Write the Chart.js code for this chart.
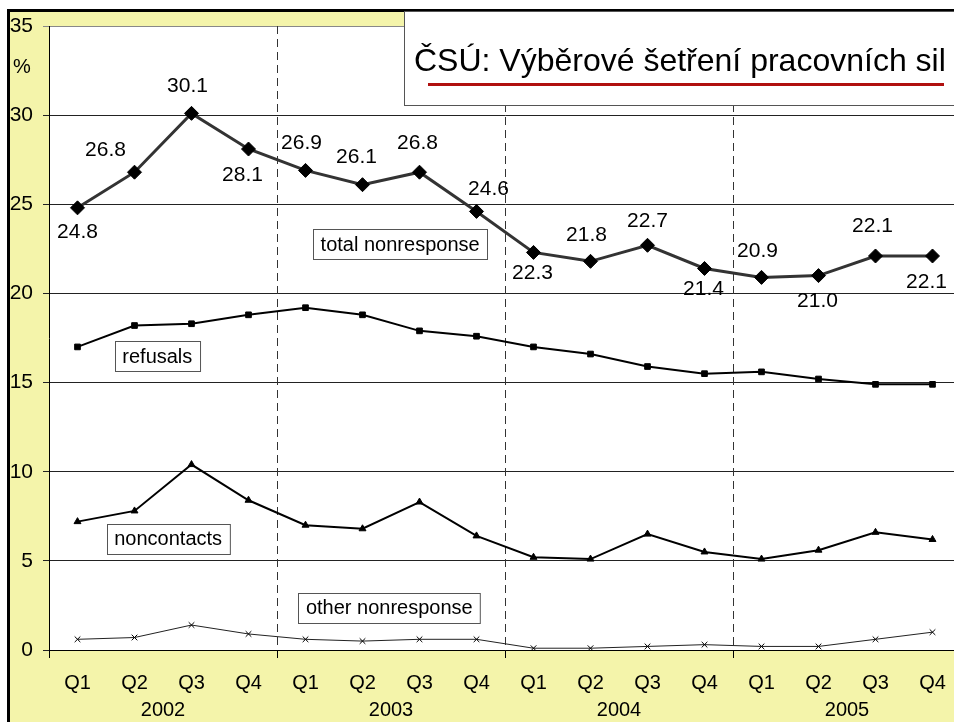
<!DOCTYPE html>
<html>
<head>
<meta charset="utf-8">
<script src="https://cdn.jsdelivr.net/npm/chart.js@4.4.1/dist/chart.umd.min.js"></script>
<style>
  html, body { margin: 0; padding: 0; background: #fff; overflow: hidden; }
  #wrap { position: relative; width: 954px; height: 722px; overflow: hidden; }
  canvas { position: absolute; left: 0; top: 0; }
</style>
</head>
<body>
<div id="wrap"><canvas id="chart" width="980" height="722"></canvas></div>
<script>
  const quarters = ['Q1', 'Q2', 'Q3', 'Q4', 'Q1', 'Q2', 'Q3', 'Q4', 'Q1', 'Q2', 'Q3', 'Q4', 'Q1', 'Q2', 'Q3', 'Q4'];
  const years = ['2002', '2003', '2004', '2005'];
  const totalNonresponse = [24.8, 26.8, 30.1, 28.1, 26.9, 26.1, 26.8, 24.6, 22.3, 21.8, 22.7, 21.4, 20.9, 21.0, 22.1, 22.1];
  const refusals = [17.0, 18.2, 18.3, 18.8, 19.2, 18.8, 17.9, 17.6, 17.0, 16.6, 15.9, 15.5, 15.6, 15.2, 14.9, 14.9];
  const noncontacts = [7.2, 7.8, 10.4, 8.4, 7.0, 6.8, 8.3, 6.4, 5.2, 5.1, 6.5, 5.5, 5.1, 5.6, 6.6, 6.2];
  const otherNonresponse = [0.6, 0.7, 1.4, 0.9, 0.6, 0.5, 0.6, 0.6, 0.1, 0.1, 0.2, 0.3, 0.2, 0.2, 0.6, 1.0];
  const seriesNames = ['total nonresponse', 'refusals', 'noncontacts', 'other nonresponse'];
  const title = 'ČSÚ: Výběrové šetření pracovních sil';

  const FONT = "'Liberation Sans', Arial, sans-serif";
  const YELLOW = '#f4f4aa';

  // where the value labels of the total line sit, relative to each point (px)
  const labelOffsets = [[0, 24], [-29, -22], [-4, -27], [-6, 26], [-4, -27], [-6, -27], [-2, -29], [12, -22],
    [-1, 21], [-4, -26], [0, -24], [-1, 21], [-4, -26], [-1, 26], [-3, -30], [-6, 26]];
  // name boxes, centre in (category index, value)
  const nameBoxes = [[5.66, 22.77], [1.40, 16.47], [1.59, 6.25], [5.47, 2.38]];

  const framePlugin = {
    id: 'frame',
    beforeDraw(chart) {
      const { ctx, chartArea: a } = chart;
      ctx.save();
      ctx.fillStyle = '#fff';
      ctx.fillRect(0, 0, chart.width, chart.height);
      ctx.fillStyle = YELLOW;
      ctx.fillRect(10, 12, chart.width, chart.height);
      ctx.fillStyle = '#fff';
      ctx.fillRect(a.left, a.top, a.right - a.left, a.bottom - a.top);
      ctx.fillStyle = '#000';
      ctx.fillRect(7, 9, chart.width, 3);
      ctx.fillRect(7, 9, 3, chart.height);
      ctx.restore();
    },
    beforeDatasetsDraw(chart) {
      const { ctx, chartArea: a, scales: { x } } = chart;
      ctx.save();
      ctx.strokeStyle = '#333';
      ctx.lineWidth = 1;
      ctx.setLineDash([8, 5]);
      [4, 8, 12].forEach(i => {
        const px = Math.round((x.getPixelForValue(i - 1) + x.getPixelForValue(i)) / 2) + 0.5;
        ctx.beginPath();
        ctx.moveTo(px, a.top);
        ctx.lineTo(px, a.bottom);
        ctx.stroke();
      });
      ctx.restore();
    },
    afterDraw(chart) {
      const { ctx, scales: { x, y } } = chart;
      ctx.save();
      ctx.fillStyle = '#000';
      ctx.font = '21px ' + FONT;
      ctx.textAlign = 'center';
      ctx.textBaseline = 'middle';

      // value labels on the total line
      const meta = chart.getDatasetMeta(0);
      meta.data.forEach((pt, i) => {
        const [dx, dy] = labelOffsets[i];
        ctx.fillText(totalNonresponse[i].toFixed(1), pt.x + dx, pt.y + dy);
      });

      // years under the quarters
      ctx.font = '20px ' + FONT;
      years.forEach((yr, g) => {
        const cx = (x.getPixelForValue(g * 4 + 1) + x.getPixelForValue(g * 4 + 2)) / 2;
        ctx.fillText(yr, cx, 710);
      });

      // unit
      ctx.fillText('%', 22, y.getPixelForValue(32.7));

      // series name boxes
      nameBoxes.forEach(([ix, v], k) => {
        const cx = x.getPixelForValue(ix);
        const cy = y.getPixelForValue(v);
        const w = ctx.measureText(seriesNames[k]).width + 15;
        const h = 30;
        const bx = Math.round(cx - w / 2) + 0.5, by = Math.round(cy - h / 2) + 0.5;
        ctx.fillStyle = '#fff';
        ctx.fillRect(bx, by, w, h);
        ctx.strokeStyle = '#555';
        ctx.lineWidth = 1;
        ctx.strokeRect(bx, by, w, h);
        ctx.fillStyle = '#000';
        ctx.fillText(seriesNames[k], cx, cy + 1);
      });

      // title box
      ctx.fillStyle = '#fff';
      ctx.fillRect(404.5, 12, 600, 94);
      ctx.strokeStyle = '#555';
      ctx.strokeRect(404.5, 11.5, 600, 94);
      ctx.fillStyle = '#000';
      ctx.font = '32px ' + FONT;
      ctx.textAlign = 'left';
      ctx.textBaseline = 'alphabetic';
      ctx.fillText(title, 414, 71);
      ctx.fillStyle = '#b0100f';
      ctx.fillRect(428, 83, 516, 3);
      ctx.restore();
    }
  };

  new Chart(document.getElementById('chart'), {
    type: 'line',
    data: {
      labels: quarters,
      datasets: [
        {
          label: seriesNames[0], data: totalNonresponse,
          borderColor: '#333', borderWidth: 3,
          pointStyle: 'rectRot', pointRadius: 7,
          pointBackgroundColor: '#000', pointBorderColor: '#000', pointBorderWidth: 1
        },
        {
          label: seriesNames[1], data: refusals,
          borderColor: '#000', borderWidth: 2,
          pointStyle: 'rect', pointRadius: 4,
          pointBackgroundColor: '#000', pointBorderColor: '#000', pointBorderWidth: 1
        },
        {
          label: seriesNames[2], data: noncontacts,
          borderColor: '#000', borderWidth: 2,
          pointStyle: 'triangle', pointRadius: 4,
          pointBackgroundColor: '#000', pointBorderColor: '#000', pointBorderWidth: 1
        },
        {
          label: seriesNames[3], data: otherNonresponse,
          borderColor: '#222', borderWidth: 1,
          pointStyle: 'crossRot', pointRadius: 4,
          pointBackgroundColor: '#000', pointBorderColor: '#000', pointBorderWidth: 1
        }
      ]
    },
    options: {
      responsive: false,
      animation: false,
      layout: { padding: { left: 0, top: 26, right: 19, bottom: 0 } },
      plugins: {
        legend: { display: false },
        tooltip: { enabled: false }
      },
      elements: { line: { tension: 0 } },
      scales: {
        x: {
          type: 'category',
          offset: true,
          afterFit(scale) { scale.height = 72; },
          grid: {
            offset: true,
            drawOnChartArea: false,
            drawTicks: true,
            tickLength: 8,
            color: ctx => (ctx.index % 4 === 0 ? '#000' : 'rgba(0,0,0,0)')
          },
          border: { display: true, color: '#000', width: 1 },
          ticks: {
            color: '#000',
            font: { family: FONT, size: 20 },
            padding: 13,
            maxRotation: 0,
            autoSkip: false
          }
        },
        y: {
          min: 0,
          max: 35,
          afterFit(scale) { scale.width = 49; },
          grid: {
            color: ctx => (ctx.tick && ctx.tick.value === 35 ? '#888' : '#222'),
            lineWidth: 1,
            drawTicks: true,
            tickLength: 6
          },
          border: { display: true, color: '#000', width: 1 },
          ticks: {
            stepSize: 5,
            color: '#000',
            font: { family: FONT, size: 21 },
            padding: 10
          }
        }
      }
    },
    plugins: [framePlugin]
  });
</script>
</body>
</html>
